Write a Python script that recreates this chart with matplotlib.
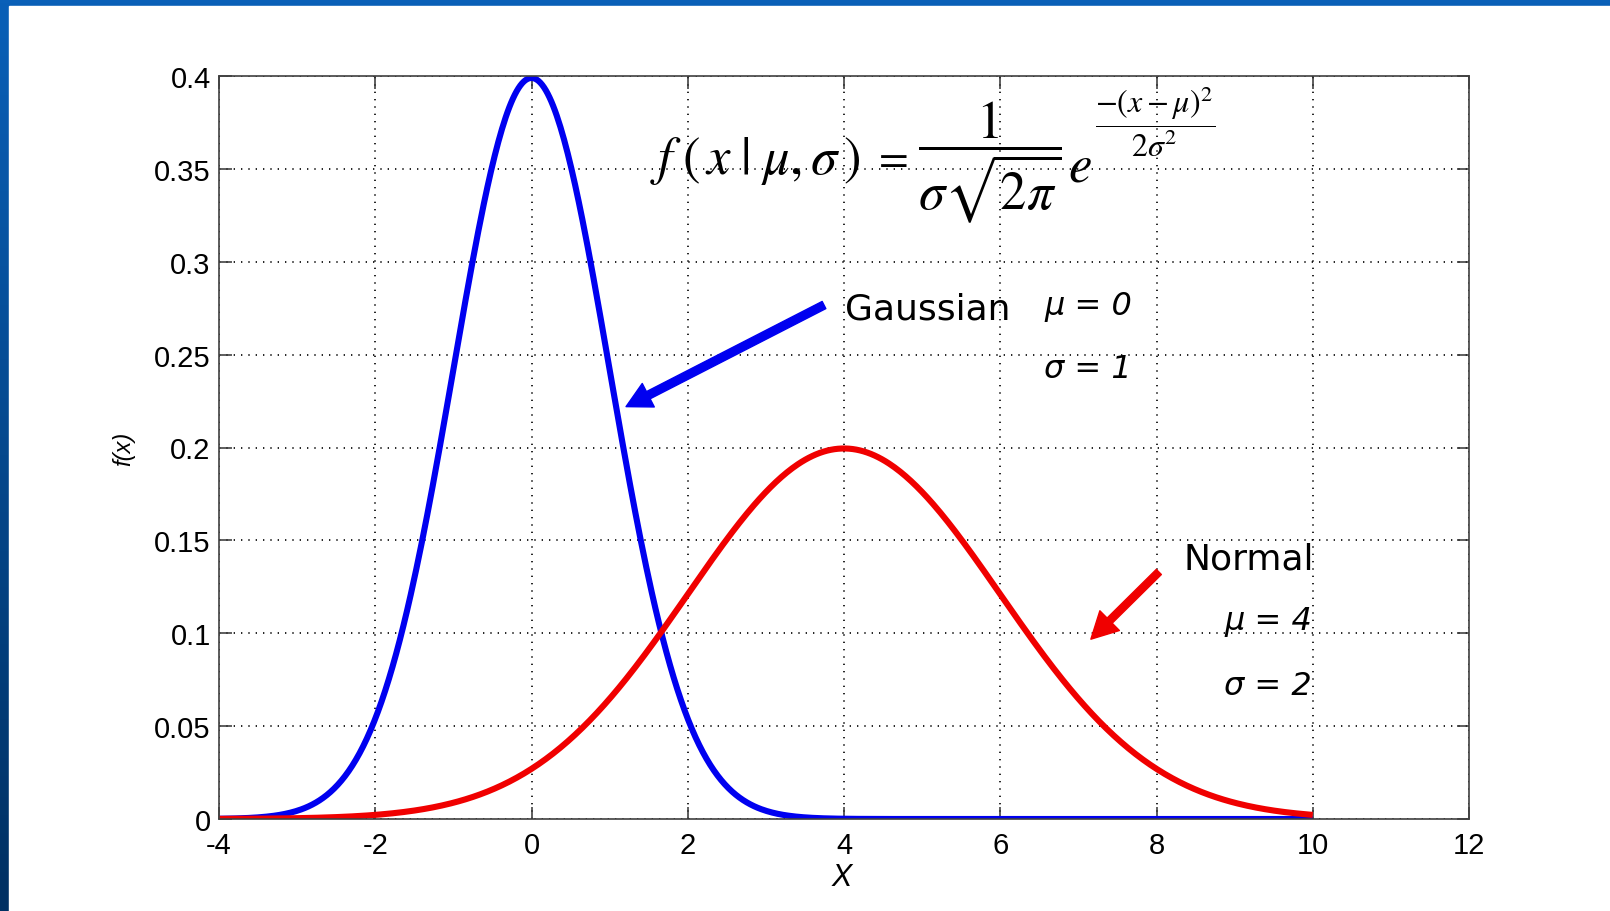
import numpy as np
import matplotlib
matplotlib.use('Agg')
import matplotlib.pyplot as plt
from matplotlib.patches import Rectangle

# two normal curves, parameters as printed next to them
names = ['Gaussian', 'Normal']
mus = [0, 4]
sigmas = [1, 2]
colors = ['#0000f0', '#f00000']
x_range = (-4, 10)

xticks = [-4, -2, 0, 2, 4, 6, 8, 10, 12]
yticks = [0, 0.05, 0.1, 0.15, 0.2, 0.25, 0.3, 0.35, 0.4]
ytick_labels = ['0', '0.05', '0.1', '0.15', '0.2', '0.25', '0.3', '0.35', '0.4']

W, H = 1610, 912


def pdf(x, mu, sigma):
    return np.exp(-(x - mu) ** 2 / (2 * sigma ** 2)) / (sigma * np.sqrt(2 * np.pi))


def fx(px):
    return px / W


def fy(py):
    return 1 - py / H


plt.rcParams['mathtext.fontset'] = 'stix'
plt.rcParams['axes.unicode_minus'] = False
fig = plt.figure(figsize=(W / 100, H / 100), dpi=100)
fig.patch.set_facecolor('white')

# slide frame: blue strip on top and left
bg = fig.add_axes([0, 0, 1, 1], zorder=-5)
top_c = np.array([0x0a, 0x60, 0xb8]) / 255
bot_c = np.array([0x00, 0x30, 0x62]) / 255
t = np.linspace(0, 1, 256)[:, None]
grad = (top_c[None, :] * (1 - t) + bot_c[None, :] * t)[:, None, :]
bg.imshow(grad, extent=[0, W, H, 0], aspect='auto')
bg.add_patch(Rectangle((9, 7), W - 9, H - 7, color='white'))
bg.set_xlim(0, W)
bg.set_ylim(H, 0)
bg.axis('off')

ax = fig.add_axes([219 / W, 1 - 820 / H, 1250 / W, 743 / H])

xs = np.linspace(x_range[0], x_range[1], 600)
for mu, sigma, c in zip(mus, sigmas, colors):
    ax.plot(xs, pdf(xs, mu, sigma), color=c, lw=4.4, solid_capstyle='butt')

ax.set_xlim(-4, 12)
ax.set_ylim(0, 0.4)
ax.set_xticks(xticks)
ax.set_yticks(yticks)
ax.set_yticklabels(ytick_labels)
ax.grid(True, color='black', linestyle=(0, (0.8, 3.6)), lw=1.2)
ax.tick_params(direction='in', top=True, right=True, length=9, width=1.1,
               labelsize=21, colors='#333333', labelcolor='black')
ax.tick_params(axis='x', pad=9)
ax.tick_params(axis='y', pad=6)
for lab in ax.get_xticklabels() + ax.get_yticklabels():
    lab.set_fontfamily('Liberation Sans')
for s in ax.spines.values():
    s.set_color('#404040')
    s.set_linewidth(1.2)

ax.set_xlabel('X', fontsize=22, fontstyle='italic', family='Liberation Sans')
ax.xaxis.set_label_coords(0.4984, -0.058)
ax.set_ylabel('f(x)', fontsize=17, fontstyle='italic', family='Liberation Sans')
ax.yaxis.set_label_coords(-0.0672, 0.5)

# density formula, set in pieces
fig.text(fx(650), fy(161), r'$f\;(\,x\;|\;\mu,\sigma\,)$',
         fontsize=38, ha='left', va='center')
fig.text(fx(872), fy(158), r'$=$', fontsize=31, ha='left', va='center')
fig.text(fx(918), fy(163), r'$\dfrac{1}{\sigma\sqrt{2\pi}}$',
         fontsize=38, ha='left', va='center')
fig.text(fx(1068), fy(166), r'$e$', fontsize=38, ha='left', va='center')
fig.text(fx(1095), fy(122), r'$\dfrac{-(x-\mu)^2}{2\sigma^2}$',
         fontsize=23, ha='left', va='center')

# curve labels and arrows
lab_font = dict(family='DejaVu Sans', color='black')
ax.text(4.01, 0.2746, 'Gaussian', fontsize=26, ha='left', va='center', **lab_font)
ax.text(6.56, 0.2767, 'μ = 0', fontsize=23, style='italic', ha='left', va='center', **lab_font)
ax.text(6.56, 0.2423, 'σ = 1', fontsize=23, style='italic', ha='left', va='center', **lab_font)
ax.text(10.02, 0.14, 'Normal', fontsize=26, ha='right', va='center', **lab_font)
ax.text(9.99, 0.1066, 'μ = 4', fontsize=23, style='italic', ha='right', va='center', **lab_font)
ax.text(9.99, 0.0721, 'σ = 2', fontsize=23, style='italic', ha='right', va='center', **lab_font)

ax.annotate('', xy=(1.21, 0.222), xytext=(3.744, 0.2767),
            arrowprops=dict(width=5.8, headwidth=19, headlength=18,
                            color='#0000f0', shrink=0))
ax.annotate('', xy=(7.16, 0.0968), xytext=(8.03, 0.1330),
            arrowprops=dict(width=5.2, headwidth=20, headlength=19,
                            color='#f00000', shrink=0))

fig.savefig('out.png', dpi=100)
